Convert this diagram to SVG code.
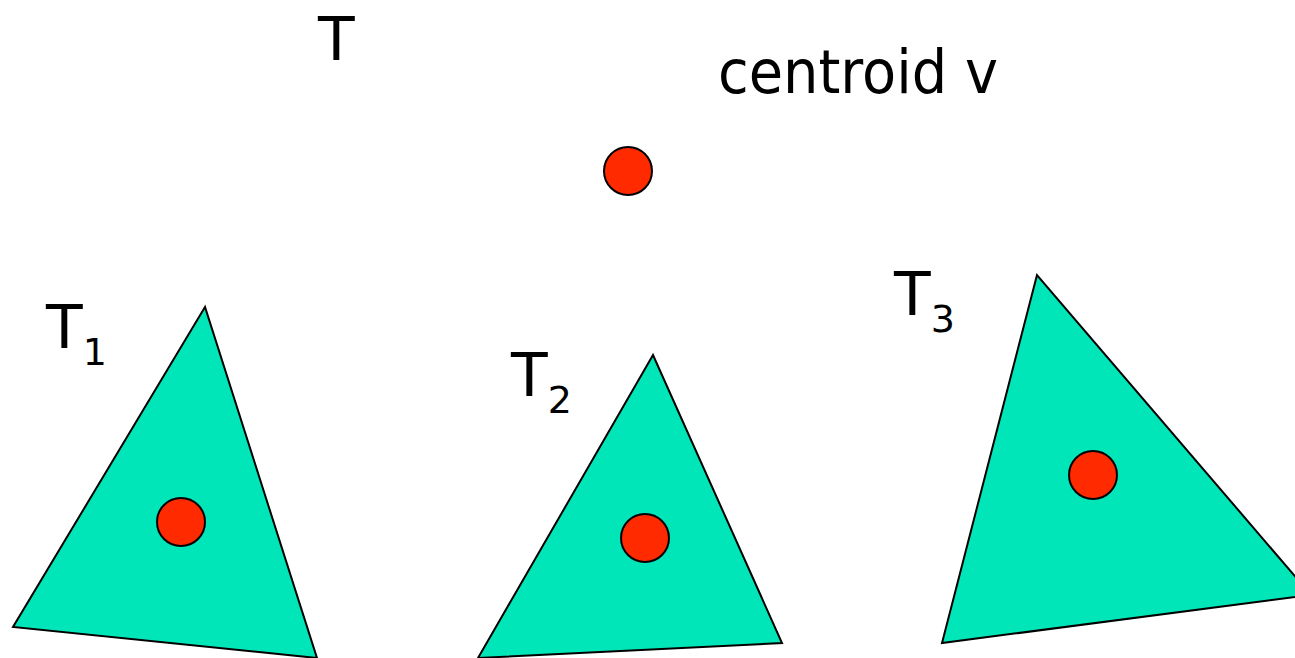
<svg xmlns="http://www.w3.org/2000/svg" width="1295" height="658" viewBox="0 0 1295 658">
<style>
.tri{fill:#00e6b8;stroke:#000;stroke-width:2;stroke-linejoin:miter}
.dot{fill:#ff2a00;stroke:#000;stroke-width:2}
.lbl{font-family:"DejaVu Sans",Verdana,sans-serif;font-size:60px;fill:#000}
.sub{font-size:38px}
</style>
<rect width="1295" height="658" fill="#fff"/>
<g id="label-T"><text class="lbl" x="318" y="60">T</text></g>
<g id="label-centroid"><text class="lbl" x="718" y="93" textLength="280" lengthAdjust="spacingAndGlyphs">centroid v</text></g>
<g id="centroid-v"><circle class="dot" cx="628" cy="171" r="24"/></g>
<g id="T1">
<polygon class="tri" points="205,307 13,627 317,658"/>
<circle class="dot" cx="181" cy="522" r="24"/>
<text class="lbl" x="46" y="348">T<tspan class="sub" dy="17">1</tspan></text>
</g>
<g id="T2">
<polygon class="tri" points="653,355 478,658 782,643"/>
<circle class="dot" cx="645" cy="538" r="24"/>
<text class="lbl" x="511" y="396">T<tspan class="sub" dy="17">2</tspan></text>
</g>
<g id="T3">
<polygon class="tri" points="1037,275 942,643 1311,595"/>
<circle class="dot" cx="1093" cy="475" r="24"/>
<text class="lbl" x="894" y="315">T<tspan class="sub" dy="17">3</tspan></text>
</g>
<g id="connectors"></g>
</svg>
